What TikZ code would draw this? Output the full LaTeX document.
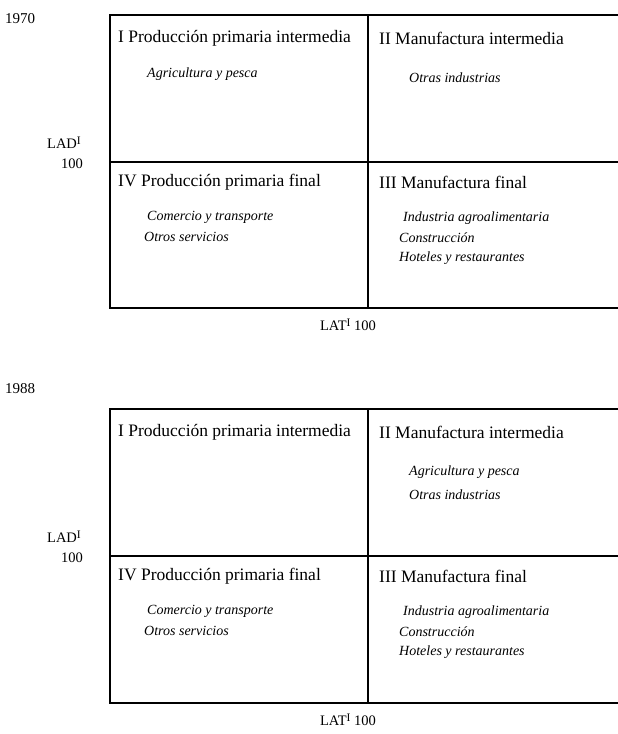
\documentclass[tikz,border=0pt]{standalone}
\usepackage{fontspec}
\setmainfont{Liberation Serif}
\newcommand{\supI}{\raisebox{0.55ex}{\fontsize{11.5}{12}\selectfont I}}
\begin{document}
\begin{tikzpicture}[x=1pt,y=-1pt,
  frame/.style={line width=1.8pt},
  head/.style={anchor=west,inner sep=0pt,font=\fontsize{17.5}{20}\selectfont},
  item/.style={anchor=west,inner sep=0pt,font=\fontsize{14}{16}\selectfont\itshape},
  axis/.style={inner sep=0pt,font=\fontsize{14.5}{17}\selectfont},
  year/.style={anchor=west,inner sep=0pt,font=\fontsize{15}{17}\selectfont},
]
\useasboundingbox (0,0) rectangle (618,734);

% ---------- 1970 ----------
\coordinate (tl1) at (110,15);
\coordinate (tm1) at (368,15);
\coordinate (tr1) at (618,15);
\coordinate (ml1) at (110,162);
\coordinate (mr1) at (618,162);
\coordinate (bl1) at (110,308);
\coordinate (bm1) at (368,308);
\coordinate (br1) at (618,308);
\draw[frame] (tr1) -- (tl1) -- (bl1) -- (br1);
\draw[frame] (ml1) -- (mr1);
\draw[frame] (tm1) -- (bm1);

\node[year] (y1) at (5,19) {1970};
\node[axis,anchor=east] (lad1) at (81,143) {LAD\supI};
\node[axis,anchor=east] (h1) at (83,164) {100};
\node[axis] (lat1) at (348,325) {LAT\supI\ 100};

\node[head] (q1a) at (118,38) {I Producción primaria intermedia};
\node[item] (q1b) at (147,74) {Agricultura y pesca};
\node[head] (q2a) at (379,38) {II Manufactura intermedia};
\node[item] (q2b) at (409,78) {Otras industrias};
\node[head] (q4a) at (118,182) {IV Producción primaria final};
\node[item] (q4b) at (147,217) {Comercio y transporte};
\node[item] (q4c) at (144,237) {Otros servicios};
\node[head] (q3a) at (379,182) {III Manufactura final};
\node[item] (q3b) at (403,218) {Industria agroalimentaria};
\node[item] (q3c) at (399,238) {Construcción};
\node[item] (q3d) at (399,258) {Hoteles y restaurantes};

% ---------- 1988 ----------
\coordinate (tl2) at (110,409);
\coordinate (tm2) at (368,409);
\coordinate (tr2) at (618,409);
\coordinate (ml2) at (110,556);
\coordinate (mr2) at (618,556);
\coordinate (bl2) at (110,703);
\coordinate (bm2) at (368,703);
\coordinate (br2) at (618,703);
\draw[frame] (tr2) -- (tl2) -- (bl2) -- (br2);
\draw[frame] (ml2) -- (mr2);
\draw[frame] (tm2) -- (bm2);

\node[year] (y2) at (5,389) {1988};
\node[axis,anchor=east] (lad2) at (81,537) {LAD\supI};
\node[axis,anchor=east] (h2) at (83,558) {100};
\node[axis] (lat2) at (348,720) {LAT\supI\ 100};

\node[head] (r1a) at (118,432) {I Producción primaria intermedia};
\node[head] (r2a) at (379,432) {II Manufactura intermedia};
\node[item] (r2b) at (409,472) {Agricultura y pesca};
\node[item] (r2c) at (409,495) {Otras industrias};
\node[head] (r4a) at (118,576) {IV Producción primaria final};
\node[item] (r4b) at (147,611) {Comercio y transporte};
\node[item] (r4c) at (144,631) {Otros servicios};
\node[head] (r3a) at (379,576) {III Manufactura final};
\node[item] (r3b) at (403,612) {Industria agroalimentaria};
\node[item] (r3c) at (399,632) {Construcción};
\node[item] (r3d) at (399,652) {Hoteles y restaurantes};
\end{tikzpicture}
\end{document}
